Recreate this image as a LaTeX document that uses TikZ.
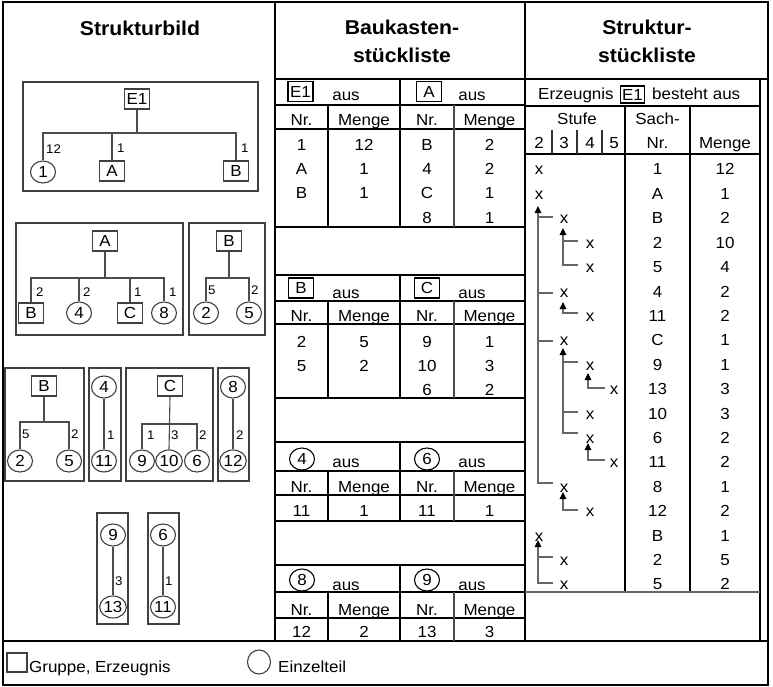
\documentclass[tikz,border=0pt]{standalone}
\usepackage{fontspec}
\setmainfont[FakeStretch=1.06]{Liberation Sans}
\usetikzlibrary{shapes.geometric,arrows.meta}
\newcommand\tabfont{\fontsize{16}{19}\selectfont}
\newcommand\lblfont{\fontsize{12.5}{15}\selectfont}
\newcommand\headfont{\fontsize{20}{24}\selectfont\bfseries}
\tikzset{
  cell/.style={font=\tabfont, inner sep=0pt, anchor=base},
  head/.style={font=\headfont, inner sep=0pt, anchor=base},
  grp/.style={draw=black!75, line width=1.1pt, minimum width=25pt, minimum height=20pt, inner sep=0pt, font=\tabfont},
  part/.style={ellipse, draw=black!75, line width=1.1pt, minimum width=25pt, minimum height=22pt, inner sep=0pt, font=\tabfont},
  qty/.style={font=\lblfont, inner sep=0pt, anchor=west},
  conn/.style={draw=black!70, line width=1.1pt},
  frm/.style={draw=black!75, line width=1.1pt},
  rule/.style={draw=black, line width=1.4pt},
  heavy/.style={draw=black, line width=2pt},
  tree/.style={draw=black!60, line width=1.2pt},
  treearr/.style={tree, -{Triangle[black, width=6.5pt, length=7pt]}}
}
\begin{document}
\begin{tikzpicture}[x=1pt,y=-1pt]
\useasboundingbox (0,0) rectangle (773,687);
\fill[white] (0,0) rectangle (773,687);

% ---------- frame ----------
\draw[heavy] (2.5,2) rectangle (767.5,685);
\draw[heavy] (2.5,641) -- (767.5,641);
\draw[heavy] (275,2) -- (275,641);
\draw[heavy] (525,2) -- (525,641);
\draw[heavy] (275,79) -- (767.5,79);
\draw[heavy] (760,79) -- (760,641);

% ---------- headings ----------
\node[head] (h1) at (140,36) {Strukturbild};
\node[head] (h2a) at (402,35) {Baukasten-};
\node[head] (h2b) at (402,63) {stückliste};
\node[head] (h3a) at (647,35) {Struktur-};
\node[head] (h3b) at (647,63) {stückliste};

% ---------- Strukturbild ----------
% E1
\draw[frm] (23,82) rectangle (258,191);
\node[grp] (e1) at (137,99) {E1};
\node[part] (d1p1) at (43,172) {1};
\node[grp] (d1a) at (112,171) {A};
\node[grp] (d1b) at (236,171) {B};
\coordinate (bar1) at (0,133);
\draw[conn] (e1.south) -- (e1.south |- bar1);
\draw[conn] (d1p1.north) -- (d1p1.north |- bar1) -- (d1b.north |- bar1) -- (d1b.north);
\draw[conn] (d1a.north) -- (d1a.north |- bar1);
\node[qty] (q11) at (46,149) {12};
\node[qty] (q12) at (117,148) {1};
\node[qty] (q13) at (241,148) {1};

% A
\draw[frm] (16,223) rectangle (183,335);
\node[grp] (d2a) at (105,241) {A};
\node[grp] (d2b) at (31,313) {B};
\node[part] (d2p4) at (79,313) {4};
\node[grp] (d2c) at (130,313) {C};
\node[part] (d2p8) at (164,313) {8};
\coordinate (bar2) at (0,278);
\draw[conn] (d2a.south) -- (d2a.south |- bar2);
\draw[conn] (d2b.north) -- (d2b.north |- bar2) -- (d2p8.north |- bar2) -- (d2p8.north);
\draw[conn] (d2p4.north) -- (d2p4.north |- bar2);
\draw[conn] (d2c.north) -- (d2c.north |- bar2);
\node[qty] (q21) at (36,292) {2};
\node[qty] (q22) at (83,292) {2};
\node[qty] (q23) at (134,292) {1};
\node[qty] (q24) at (169,292) {1};

% B (upper)
\draw[frm] (189,223) rectangle (265,335);
\node[grp] (d3b) at (229,241) {B};
\node[part] (d3p2) at (206,313) {2};
\node[part] (d3p5) at (249,313) {5};
\draw[conn] (d3b.south) -- (d3b.south |- bar2);
\draw[conn] (d3p2.north) -- (d3p2.north |- bar2) -- (d3p5.north |- bar2) -- (d3p5.north);
\node[qty] (q31) at (208,290) {5};
\node[qty] (q32) at (251,290) {2};

% B (lower)
\draw[frm] (5,368) rectangle (84,481);
\node[grp] (d4b) at (44,386) {B};
\node[part] (d4p2) at (20,461) {2};
\node[part] (d4p5) at (69,461) {5};
\coordinate (bar4) at (0,422);
\draw[conn] (d4b.south) -- (d4b.south |- bar4);
\draw[conn] (d4p2.north) -- (d4p2.north |- bar4) -- (d4p5.north |- bar4) -- (d4p5.north);
\node[qty] (q41) at (22,434) {5};
\node[qty] (q42) at (71,434) {2};

% 4
\draw[frm] (89,368) rectangle (121,481);
\node[part] (d5p4) at (104,387) {4};
\node[part] (d5p11) at (104,461) {11};
\draw[conn] (d5p4.south) -- (d5p11.north);
\node[qty] (q51) at (107,435) {1};

% C
\draw[frm] (126,368) rectangle (213,481);
\node[grp] (d6c) at (170,386) {C};
\node[part] (d6p9) at (142,461) {9};
\node[part] (d6p10) at (169,461) {10};
\node[part] (d6p6) at (197,461) {6};
\coordinate (bar6) at (0,424);
\draw[conn] (d6c.south) -- (d6p10.north);
\draw[conn] (d6p9.north) -- (d6p9.north |- bar6) -- (d6p6.north |- bar6) -- (d6p6.north);
\node[qty] (q61) at (147,435) {1};
\node[qty] (q62) at (171,435) {3};
\node[qty] (q63) at (199,435) {2};

% 8
\draw[frm] (218,368) rectangle (249,481);
\node[part] (d7p8) at (233,387) {8};
\node[part] (d7p12) at (233,461) {12};
\draw[conn] (d7p8.south) -- (d7p12.north);
\node[qty] (q71) at (236,435) {2};

% 9
\draw[frm] (97,513) rectangle (128,624);
\node[part] (d8p9) at (113,535) {9};
\node[part] (d8p13) at (113,607) {13};
\draw[conn] (d8p9.south) -- (d8p13.north);
\node[qty] (q81) at (115,581) {3};

% 6
\draw[frm] (148,513) rectangle (179,624);
\node[part] (d9p6) at (163,535) {6};
\node[part] (d9p11) at (163,607) {11};
\draw[conn] (d9p6.south) -- (d9p11.north);
\node[qty] (q91) at (165,581) {1};

% ---------- Baukastenstueckliste ----------
\foreach \T/\A/\H/\B in {79/105/129/227, 275/301/324/398, 442/471/495/521, 565/592/618/641}{
  \draw[rule] (275,\T) -- (525,\T);
  \draw[rule] (275,\A) -- (525,\A);
  \draw[rule] (275,\H) -- (525,\H);
  \draw[rule] (275,\B) -- (525,\B);
  \draw[rule] (400,\T) -- (400,\B);
  \draw[rule] (328,\A) -- (328,\B);
  \draw[rule, black!70] (454,\A) -- (454,\B);
}
\foreach \k/\H in {1/126, 2/321, 3/492, 4/615}{
  \node[cell] (nrl\k) at (301.5,\H) {Nr.};
  \node[cell] (mgl\k) at (364,\H) {Menge};
  \node[cell] (nrr\k) at (427,\H) {Nr.};
  \node[cell] (mgr\k) at (489.5,\H) {Menge};
}
% titles
\node[grp, draw=black] (t1a) at (300.5,91.5) {E1};
\node[cell] (aus1a) at (346,101) {aus};
\node[grp, draw=black] (t1b) at (429,91.5) {A};
\node[cell] (aus1b) at (472,101) {aus};
\node[grp, draw=black] (t2a) at (301,288) {B};
\node[cell] (aus2a) at (346,298) {aus};
\node[grp, draw=black] (t2b) at (427,288) {C};
\node[cell] (aus2b) at (472,298) {aus};
\node[part, draw=black] (t3a) at (302,459) {4};
\node[cell] (aus3a) at (346,467) {aus};
\node[part, draw=black] (t3b) at (427,459) {6};
\node[cell] (aus3b) at (472,467) {aus};
\node[part, draw=black] (t4a) at (302,580) {8};
\node[cell] (aus4a) at (346,590) {aus};
\node[part, draw=black] (t4b) at (427,580) {9};
\node[cell] (aus4b) at (472,590) {aus};
% data
\foreach \i/\y/\n/\m in {1/151/1/12, 2/175/A/1, 3/199/B/1, 4/347/2/5, 5/371/5/2, 6/516/11/1, 7/637/12/2}{
  \node[cell] (bln\i) at (301.5,\y) {\n};
  \node[cell] (blm\i) at (364,\y) {\m};
}
\foreach \i/\y/\n/\m in {1/151/B/2, 2/175/4/2, 3/199/C/1, 4/223/8/1, 5/347/9/1, 6/371/10/3, 7/395/6/2, 8/516/11/1, 9/637/13/3}{
  \node[cell] (brn\i) at (427,\y) {\n};
  \node[cell] (brm\i) at (489.5,\y) {\m};
}

% ---------- Strukturstueckliste ----------
\draw[rule] (525,106) -- (760,106);
\draw[rule] (525,154) -- (760,154);
\draw[rule] (625,106) -- (625,592);
\draw[rule] (690,106) -- (690,592);
\draw[rule, black!60] (525,592) -- (760,592);
\node[cell, anchor=base west] (erz) at (538,100) {Erzeugnis};
\node[grp, draw=black, minimum width=24pt, minimum height=17pt] (erzbox) at (632.5,94.5) {E1};
\node[cell, anchor=base west] (best) at (652,100) {besteht\hspace{5pt}aus};
\node[cell] (stufe) at (577,125) {Stufe};
\node[cell] (sach) at (657.5,125) {Sach-};
\node[cell] (sachnr) at (657.5,149) {Nr.};
\node[cell] (smenge) at (725,149) {Menge};
\foreach \d/\x in {2/539, 3/564, 4/590, 5/614}{
  \node[cell] (st\d) at (\x,149) {\d};
}
\foreach \x in {552,577,602}{
  \draw[line width=2pt, black!80] (\x,130) -- (\x,154);
}
\foreach \i/\lv/\nr/\m in {0/539/1/12, 1/539/A/1, 2/564/B/2, 3/590/2/10, 4/590/5/4, 5/564/4/2, 6/590/11/2, 7/564/C/1, 8/590/9/1, 9/614/13/3, 10/590/10/3, 11/590/6/2, 12/614/11/2, 13/564/8/1, 14/590/12/2, 15/539/B/1, 16/564/2/5, 17/564/5/2}{
  \pgfmathsetmacro\yb{175+24.41*\i}
  \node[cell] (sx\i) at (\lv,\yb) {x};
  \node[cell] (sn\i) at (657.5,\yb) {\nr};
  \node[cell] (sm\i) at (725,\yb) {\m};
}
% tree connectors
\draw[treearr] (553,483) -- (538,483) -- (538,206);
\draw[tree] (538,217) -- (553,217);
\draw[tree] (538,293) -- (553,293);
\draw[tree] (538,341) -- (553,341);
\draw[treearr] (578,265) -- (563,265) -- (563,228);
\draw[tree] (563,241) -- (578,241);
\draw[treearr] (578,313) -- (563,313) -- (563,302);
\draw[treearr] (578,433) -- (563,433) -- (563,348);
\draw[tree] (563,362) -- (578,362);
\draw[tree] (563,412) -- (578,412);
\draw[treearr] (605,388) -- (588,388) -- (588,373);
\draw[treearr] (605,460) -- (588,460) -- (588,443);
\draw[treearr] (578,510) -- (563,510) -- (563,492);
\draw[treearr] (553,583) -- (538,583) -- (538,540);
\draw[tree] (538,557) -- (553,557);

% ---------- legend ----------
\node[grp, minimum width=20pt, minimum height=19pt] (lg1) at (17,662.5) {};
\node[cell, anchor=base west] (lt1) at (29,672) {Gruppe, Erzeugnis};
\node[part, minimum width=23pt, minimum height=24pt] (lg2) at (259,662) {};
\node[cell, anchor=base west] (lt2) at (278,672) {Einzelteil};
\end{tikzpicture}
\end{document}
